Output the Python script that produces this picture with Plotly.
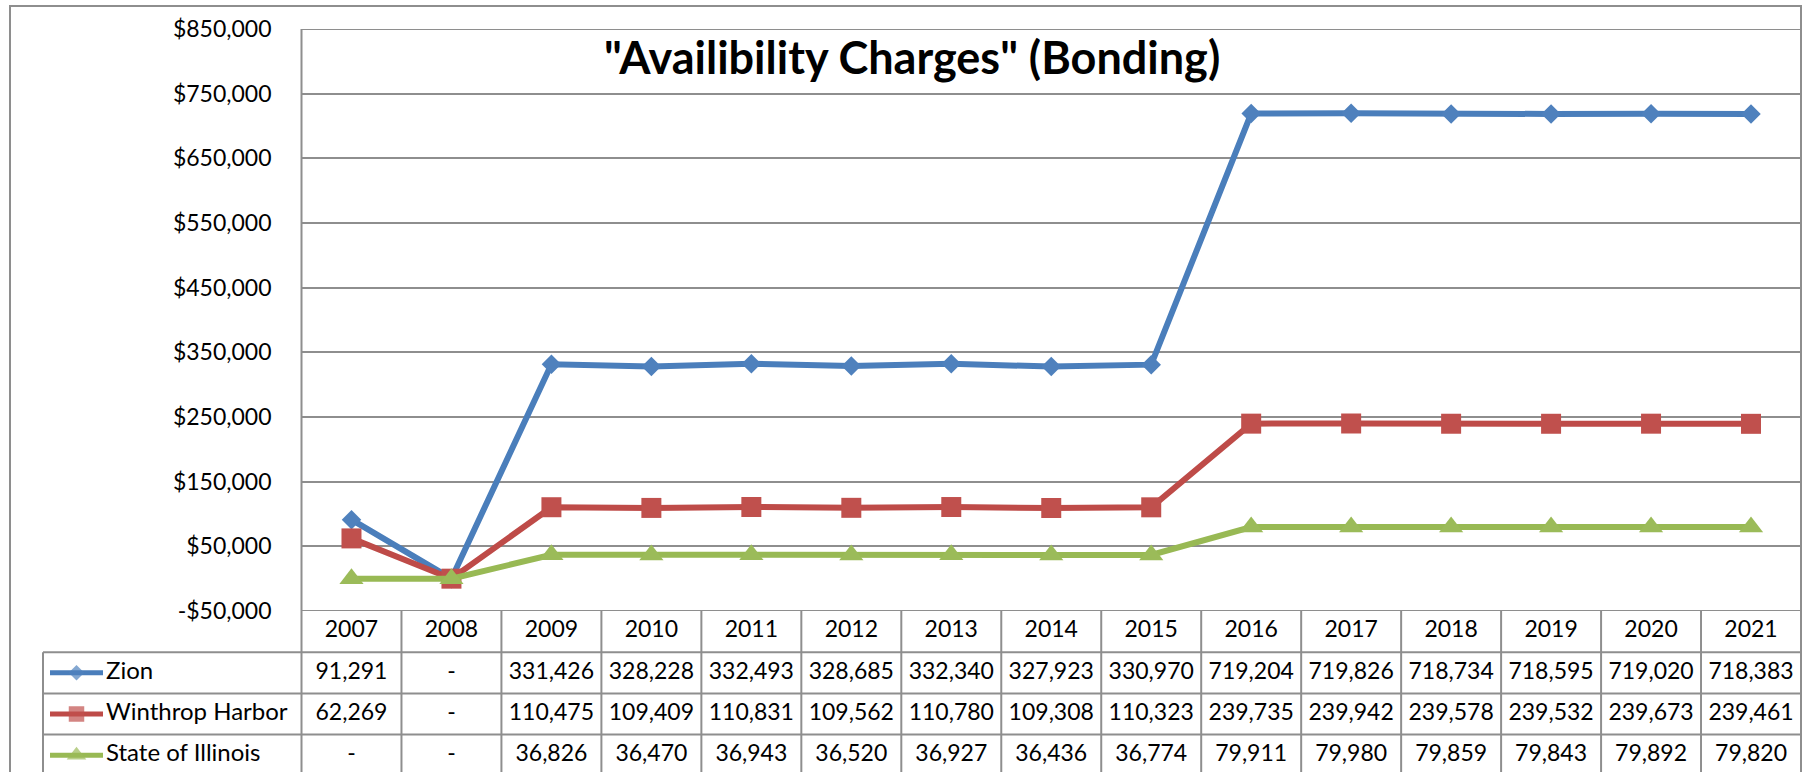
import plotly.graph_objects as go

# ---------------- data ----------------
years = [2007, 2008, 2009, 2010, 2011, 2012, 2013, 2014, 2015, 2016, 2017, 2018, 2019, 2020, 2021]
zion = [91291, 0, 331426, 328228, 332493, 328685, 332340, 327923, 330970,
        719204, 719826, 718734, 718595, 719020, 718383]
winthrop_harbor = [62269, 0, 110475, 109409, 110831, 109562, 110780, 109308, 110323,
                   239735, 239942, 239578, 239532, 239673, 239461]
state_of_illinois = [0, 0, 36826, 36470, 36943, 36520, 36927, 36436, 36774,
                     79911, 79980, 79859, 79843, 79892, 79820]
series_names = ["Zion", "Winthrop Harbor", "State of Illinois"]
y_tick_values = [-50000, 50000, 150000, 250000, 350000, 450000, 550000, 650000, 750000, 850000]
y_tick_labels = ["-$50,000", "$50,000", "$150,000", "$250,000", "$350,000",
                 "$450,000", "$550,000", "$650,000", "$750,000", "$850,000"]
title_text = '"Availibility Charges" (Bonding)'

# ---------------- geometry / style ----------------
W, H = 1805, 772
PX_L, PX_R = 301.5, 1801.0
PY_T, PY_B = 29.0, 611.0
ROW_H = 41.2
TBL_L = 43.0
GRID = "#8E8E8E"
FONT = "Lato, 'Open Sans', sans-serif"
FS = 23

line_colors = ["#4A7EBB", "#BE4B48", "#98B954"]
marker_colors = ["#4F81BD", "#C0504D", "#9BBB59"]
symbols = ["diamond", "square", "triangle-up"]
msizes = [15, 20, 21]
key_msizes = [12, 15.5, 17]
series_values = [zion, winthrop_harbor, state_of_illinois]


def fx(px):
    return px / W


def fy(py):
    return (H - py) / H


n = len(years)
col_w = (PX_R - PX_L) / n
x_lo = years[0] - 0.5
x_hi = years[-1] + 0.5


def x2_at(px):
    return x_lo + (px - PX_L) / col_w


def y2_at(py):
    return -0.5 + (py - PY_B) / ROW_H


def fmt(v):
    return "-" if v == 0 else f"{v:,}"


fig = go.Figure()

# chart lines
for name, vals, lc, mc, sym, ms in zip(series_names, series_values, line_colors,
                                       marker_colors, symbols, msizes):
    fig.add_trace(go.Scatter(
        x=years, y=vals, name=name, mode="lines+markers",
        line=dict(color=lc, width=6),
        marker=dict(symbol=sym, size=ms, color=mc, line=dict(width=0)),
        xaxis="x", yaxis="y", showlegend=False, cliponaxis=False, hoverinfo="skip"))

# table header (years)
fig.add_trace(go.Scatter(
    x=years, y=[0] * n, text=[str(y) for y in years], mode="text",
    textposition="middle center", textfont=dict(family=FONT, size=FS, color="black"),
    xaxis="x2", yaxis="y2", showlegend=False, cliponaxis=False, hoverinfo="skip"))

# table values
for r, vals in enumerate(series_values, start=1):
    fig.add_trace(go.Scatter(
        x=years, y=[r] * n, text=[fmt(v) for v in vals], mode="text",
        textposition="middle center", textfont=dict(family=FONT, size=FS, color="black"),
        xaxis="x2", yaxis="y2", showlegend=False, cliponaxis=False, hoverinfo="skip"))

# row labels with legend keys
for r, (name, lc, mc, sym, ms) in enumerate(zip(series_names, line_colors, marker_colors,
                                                 symbols, key_msizes), start=1):
    fig.add_trace(go.Scatter(
        x=[x2_at(50), x2_at(76.5), x2_at(103)], y=[r] * 3, mode="lines+markers",
        line=dict(color=lc, width=5),
        marker=dict(symbol=sym, size=[0, ms, 0], color=mc, line=dict(width=0)),
        xaxis="x2", yaxis="y2", showlegend=False, cliponaxis=False, hoverinfo="skip"))
fig.add_trace(go.Scatter(
    x=[x2_at(106)] * 3, y=[1, 2, 3], text=series_names, mode="text",
    textposition="middle right", textfont=dict(family=FONT, size=24, color="black"),
    xaxis="x2", yaxis="y2", showlegend=False, cliponaxis=False, hoverinfo="skip"))

shapes = []
ln = dict(color=GRID, width=2)
# outer chart border
shapes.append(dict(type="rect", xref="paper", yref="paper", x0=fx(10), x1=fx(PX_R),
                   y0=fy(800), y1=fy(6), line=ln, fillcolor="rgba(0,0,0,0)", layer="above"))
# plot area top & bottom lines
for yv in (y_tick_values[0], y_tick_values[-1]):
    shapes.append(dict(type="line", xref="x2", yref="y", x0=x_lo, x1=x_hi, y0=yv, y1=yv, line=ln))
# left axis line (continues through table)
shapes.append(dict(type="line", xref="x2", yref="paper", x0=x_lo, x1=x_lo,
                   y0=fy(800), y1=fy(PY_T), line=ln))
# table column lines
for yr in years:
    shapes.append(dict(type="line", xref="x2", yref="y2", x0=yr + 0.5, x1=yr + 0.5,
                       y0=-0.5, y1=y2_at(800), line=ln))
# table left border
shapes.append(dict(type="line", xref="x2", yref="y2", x0=x2_at(TBL_L), x1=x2_at(TBL_L),
                   y0=0.5, y1=y2_at(800), line=ln))
# table row lines
for r in range(len(series_names)):
    shapes.append(dict(type="line", xref="x2", yref="y2", x0=x2_at(TBL_L), x1=x_hi,
                       y0=r + 0.5, y1=r + 0.5, line=ln))

fig.update_layout(
    template="none",
    width=W, height=H, margin=dict(l=0, r=0, t=0, b=0, pad=0, autoexpand=False),
    paper_bgcolor="white", plot_bgcolor="rgba(0,0,0,0)",
    font=dict(family=FONT, size=FS, color="black"),
    showlegend=False,
    xaxis=dict(domain=[fx(PX_L), fx(PX_R)], range=[x_lo, x_hi], visible=False,
               anchor="y", fixedrange=True, automargin=False),
    yaxis=dict(domain=[fy(PY_B), fy(PY_T)], range=[y_tick_values[0], y_tick_values[-1]],
               tickmode="array", tickvals=y_tick_values, ticktext=y_tick_labels,
               showgrid=True, gridcolor=GRID, gridwidth=2, zeroline=False, showline=False,
               ticks="", ticklabelstandoff=29, tickfont=dict(family=FONT, size=FS, color="black"),
               anchor="x", fixedrange=True, automargin=False),
    xaxis2=dict(domain=[fx(38), fx(1805)], range=[x2_at(38), x2_at(1805)], visible=False,
                anchor="y2", fixedrange=True, automargin=False),
    yaxis2=dict(domain=[0, fy(598)], range=[y2_at(772), y2_at(598)], visible=False,
                anchor="x2", fixedrange=True, automargin=False),
    shapes=shapes,
    annotations=[dict(text=title_text, xref="paper", yref="paper", x=fx(912), y=fy(57),
                      xanchor="center", yanchor="middle", showarrow=False,
                      font=dict(family=FONT, size=45, color="black", weight=700))],
)

fig.write_html("out.html", config={"displayModeBar": False},
               post_script="document.body.style.margin='0';")
